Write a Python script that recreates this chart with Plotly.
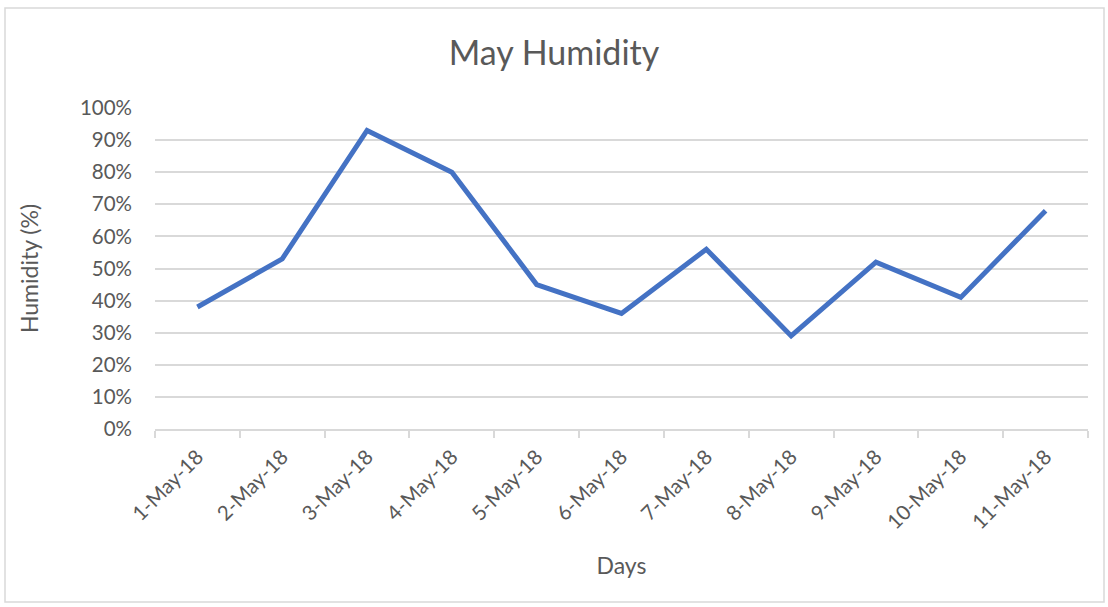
import plotly.graph_objects as go

days = ["1-May-18", "2-May-18", "3-May-18", "4-May-18", "5-May-18", "6-May-18",
        "7-May-18", "8-May-18", "9-May-18", "10-May-18", "11-May-18"]
humidity = [0.38, 0.53, 0.93, 0.80, 0.45, 0.36, 0.56, 0.29, 0.52, 0.41, 0.68]

W, H = 1108, 607
ML, MR, MT, MB = 155, 20, 108, 178
pw, ph = W - ML - MR, H - MT - MB

text_color = "#595959"
grid_color = "#d9d9d9"
font_family = "Lato, 'Open Sans', sans-serif"

fig = go.Figure(go.Scatter(
    x=days, y=humidity, mode="lines",
    line=dict(color="#4472C4", width=5),
))

def px_x(v):
    return (v - ML) / pw

def px_y(v):
    return (H - MB - v) / ph

fig.update_layout(
    width=W, height=H,
    margin=dict(l=ML, r=MR, t=MT, b=MB),
    paper_bgcolor="white", plot_bgcolor="white",
    showlegend=False,
    font=dict(family=font_family, color=text_color, size=20),
    title=dict(text="May Humidity", x=0.5, xanchor="center", y=1 - 53 / H,
               yanchor="middle", font=dict(size=34, color=text_color)),
    xaxis=dict(
        type="category", tickangle=-45, tickson="boundaries",
        ticks="outside", ticklen=7, tickcolor=grid_color, tickwidth=1.5,
        showline=True, linecolor=grid_color, linewidth=1.5,
        showgrid=False, range=[-0.5, 10.5], ticklabelstandoff=6,
        tickfont=dict(size=20.5, color=text_color),
        title=dict(text="Days", font=dict(size=23, color=text_color), standoff=26),
    ),
    yaxis=dict(
        range=[0, 1.0], tick0=0, dtick=0.1, tickformat=".0%",
        showgrid=True, gridcolor=grid_color, gridwidth=1.5,
        zeroline=False, showline=False, ticks="", ticklabelstandoff=22,
        tickfont=dict(size=20.5, color=text_color),
        title=dict(text="Humidity (%)", font=dict(size=23, color=text_color), standoff=34),
    ),
    shapes=[dict(
        type="rect", xref="paper", yref="paper",
        x0=px_x(5), x1=px_x(1104), y0=px_y(602), y1=px_y(8),
        line=dict(color=grid_color, width=1.5), fillcolor="rgba(0,0,0,0)",
        layer="below",
    )],
)

fig.write_html("out.html")
